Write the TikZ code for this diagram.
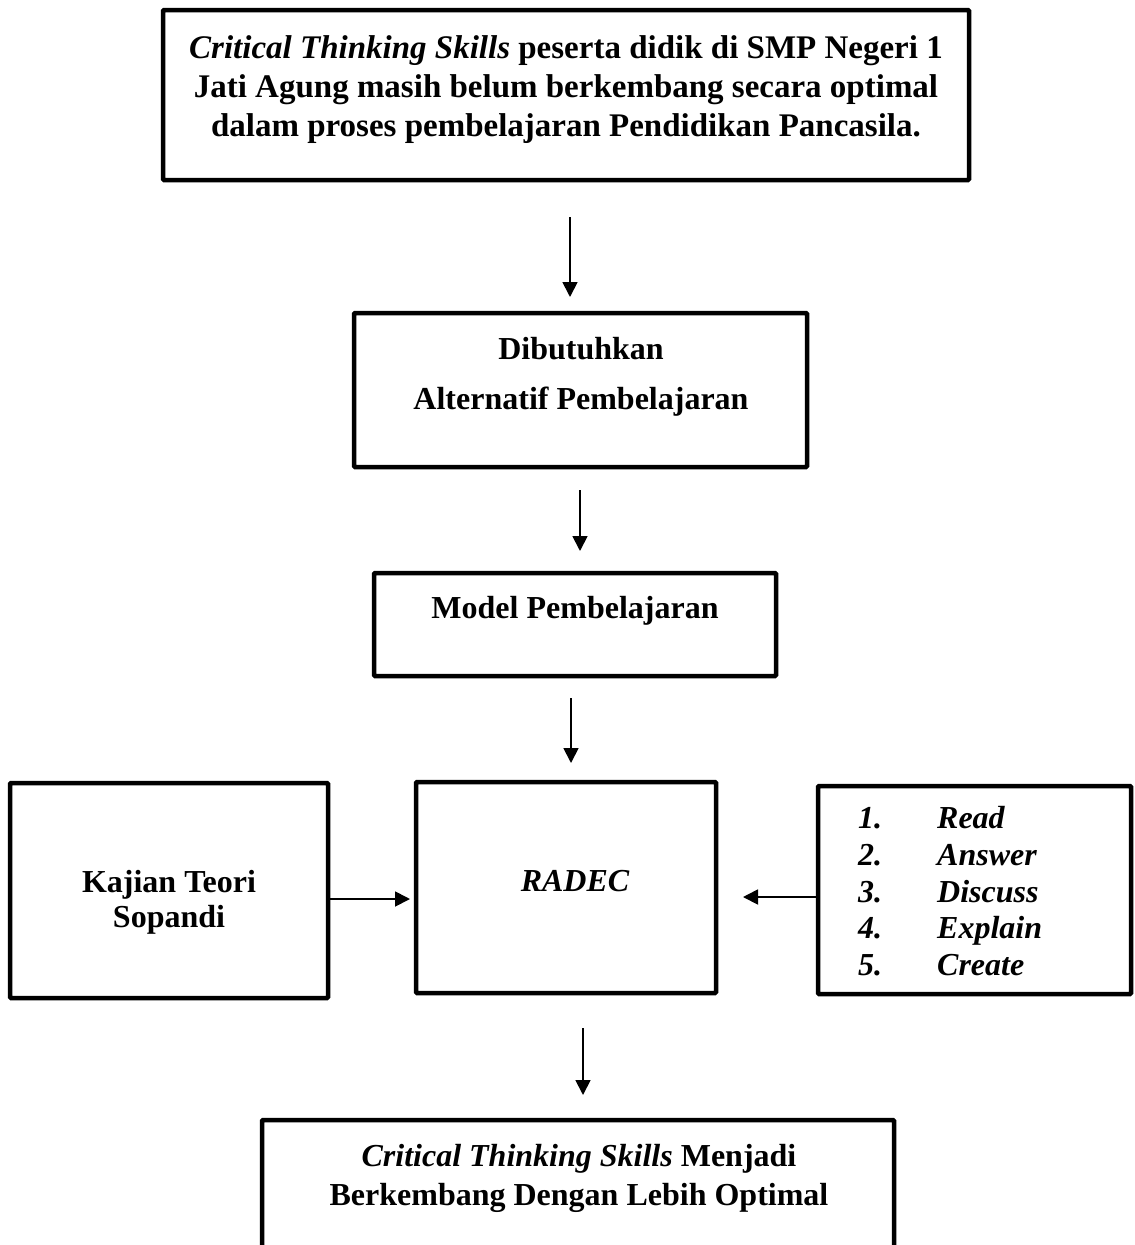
\documentclass[tikz,border=0pt]{standalone}
\usepackage{fontspec}
\setmainfont{Liberation Serif}
\usetikzlibrary{arrows.meta}
\begin{document}
\begin{tikzpicture}[x=1pt,y=-1pt,
  box/.style={draw=black,line width=4.5pt,rounded corners=1pt,inner sep=0pt},
  txt/.style={font=\fontsize{32}{39}\selectfont\bfseries,align=center,inner sep=0pt},
  conn/.style={line width=1.8pt,-{Triangle[width=15pt,length=15pt]}}]
\useasboundingbox (0,0) rectangle (1135,1245);
\fill[white] (0,0) rectangle (1135,1245);
% boxes
\node[box,minimum width=806pt,minimum height=170pt] (b1) at (566,95) {};
\node[txt,font=\fontsize{33}{39}\selectfont\bfseries,anchor=north] (t1) at (566,35) {\textit{Critical Thinking Skills} peserta didik di SMP Negeri 1\\Jati Agung masih belum berkembang secara optimal\\dalam proses pembelajaran Pendidikan Pancasila.};
\node[box,minimum width=453pt,minimum height=154pt] (b2) at (580.5,390) {};
\node[txt,font=\fontsize{32}{50}\selectfont\bfseries,anchor=north] (t2) at (581,337) {Dibutuhkan\\Alternatif Pembelajaran};
\node[box,minimum width=402pt,minimum height=103pt] (b3) at (575,624.5) {};
\node[txt,anchor=north] (t3) at (575,596) {Model Pembelajaran};
\node[box,minimum width=318pt,minimum height=215pt] (b4) at (169,890.5) {};
\node[txt,font=\fontsize{32}{35}\selectfont\bfseries] (t4) at (169,902) {Kajian Teori\\Sopandi};
\node[box,minimum width=300pt,minimum height=211pt] (b5) at (566,887.5) {};
\node[txt,font=\fontsize{32}{39}\selectfont\bfseries\itshape] (t5) at (575,881) {RADEC};
\node[box,minimum width=313pt,minimum height=208pt] (b6) at (974.5,890) {};
\node[txt,font=\fontsize{32}{36.8}\selectfont\bfseries\itshape,align=left,anchor=north west] (t6) at (858,806)
  {\makebox[79pt][l]{1.}Read\\\makebox[79pt][l]{2.}Answer\\\makebox[79pt][l]{3.}Discuss\\\makebox[79pt][l]{4.}Explain\\\makebox[79pt][l]{5.}Create};
\begin{scope}
\clip (0,0) rectangle (1135,1245);
\node[box,minimum width=632pt,minimum height=160pt] (b7) at (578,1200) {};
\end{scope}
\node[txt,anchor=north] (t7) at (579,1144) {\textit{Critical Thinking Skills} Menjadi\\Berkembang Dengan Lebih Optimal};
% connectors
\coordinate (a1s) at (570,217); \coordinate (a1e) at (570,297);
\coordinate (a2s) at (580,490); \coordinate (a2e) at (580,551);
\coordinate (a3s) at (571,698); \coordinate (a3e) at (571,763);
\coordinate (a4s) at (583,1028); \coordinate (a4e) at (583,1095);
\coordinate (a5e) at (410,899);
\coordinate (a6e) at (743,897);
\draw[conn] (a1s) -- (a1e);
\draw[conn] (a2s) -- (a2e);
\draw[conn] (a3s) -- (a3e);
\draw[conn] (a4s) -- (a4e);
\draw[conn] (b4.east |- a5e) -- (a5e);
\draw[conn] (b6.west |- a6e) -- (a6e);
\end{tikzpicture}
\end{document}
